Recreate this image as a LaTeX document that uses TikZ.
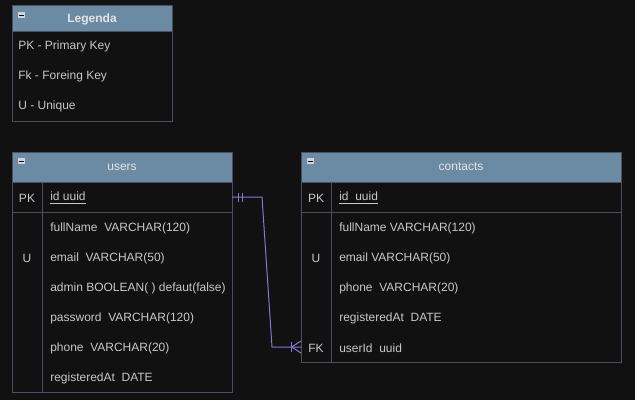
\documentclass[tikz,border=0pt]{standalone}
\usepackage{fontspec}
\setmainfont{Liberation Sans}
\definecolor{bgc}{HTML}{111111}
\definecolor{hdrc}{HTML}{6B8AA3}
\definecolor{bordc}{HTML}{4E4E62}
\definecolor{txtc}{HTML}{C8C8C8}
\definecolor{htxt}{HTML}{E4E4E4}
\definecolor{linkc}{HTML}{8478D4}
\definecolor{iconc}{HTML}{D4D4D4}
\begin{document}
\begin{tikzpicture}[x=0.75pt,y=-0.75pt,
  box/.style={draw=bordc,fill=bgc,line width=0.75pt,anchor=north west,inner sep=0,outer sep=0},
  hdr/.style={draw=bordc,fill=hdrc,line width=0.75pt,anchor=north west,inner sep=0,outer sep=0},
  grid/.style={draw=bordc,line width=0.75pt},
  txt/.style={text=txtc,font=\fontsize{9}{10}\selectfont,anchor=west,inner sep=0,yshift=-0.75pt},
  key/.style={text=txtc,font=\fontsize{9}{10}\selectfont,anchor=center,inner sep=0,yshift=-0.75pt},
  htitle/.style={text=htxt,font=\fontsize{9}{10}\selectfont,anchor=center,inner sep=0,yshift=-0.75pt},
  icon/.style={fill=iconc,draw=none,anchor=north west,minimum width=5.25pt,minimum height=4.5pt,inner sep=0},
  link/.style={draw=linkc,line width=0.75pt}]
\fill[bgc] (0,0) rectangle (635,400);
\useasboundingbox (0,0) rectangle (635,400);

% ---------- Legenda ----------
\node[box,minimum width=120pt,minimum height=87pt] (leg) at (12,5) {};
\node[hdr,minimum width=120pt,minimum height=19.5pt] (legh) at (12,5) {};
\node[htitle,font=\fontsize{9}{10}\selectfont\bfseries] (legt) at (92,18) {Legenda};
\node[icon] (legi) at (18,12) {};
\draw[bgc!70!black,line width=0.75pt] (19,15) -- (24,15);
\node[txt] (l1) at (18,45) {PK - Primary Key};
\node[txt] (l2) at (18,75) {Fk - Foreing Key};
\node[txt] (l3) at (18,105) {U - Unique};

% ---------- users ----------
\node[box,minimum width=165pt,minimum height=180pt] (users) at (12,152) {};
\node[hdr,minimum width=165pt,minimum height=22.5pt] (usersh) at (12,152) {};
\node[htitle] (userst) at (122,166) {users};
\node[icon] (usersi) at (18,158) {};
\draw[bgc!70!black,line width=0.75pt] (19,161) -- (24,161);
\draw[grid] (12,212) -- (232,212);
\draw[grid] (42,182) -- (42,392);
\node[key] (upk) at (27,197) {PK};
\node[txt] (uid) at (50,197) {\underline{id uuid}};
\node[txt] (u1) at (50,227) {fullName\ \ VARCHAR(120)};
\node[key] (uu) at (27,257) {U};
\node[txt] (u2) at (50,257) {email\ \ VARCHAR(50)};
\node[txt] (u3) at (50,287) {admin BOOLEAN( ) defaut(false)};
\node[txt] (u4) at (50,317) {password\ \ VARCHAR(120)};
\node[txt] (u5) at (50,347) {phone\ \ VARCHAR(20)};
\node[txt] (u6) at (50,377) {registeredAt\ \ DATE};

% ---------- contacts ----------
\node[box,minimum width=240pt,minimum height=157.5pt] (contacts) at (301,152) {};
\node[hdr,minimum width=240pt,minimum height=22.5pt] (contactsh) at (301,152) {};
\node[htitle] (contactst) at (461,166) {contacts};
\node[icon] (contactsi) at (307,158) {};
\draw[bgc!70!black,line width=0.75pt] (308,161) -- (313,161);
\draw[grid] (301,212) -- (621,212);
\draw[grid] (331,182) -- (331,362);
\node[key] (cpk) at (316,197) {PK};
\node[txt] (cid) at (339,197) {\underline{id\ \ uuid}};
\node[txt] (c1) at (339,227) {fullName VARCHAR(120)};
\node[key] (cu) at (316,257) {U};
\node[txt] (c2) at (339,257) {email VARCHAR(50)};
\node[txt] (c3) at (339,287) {phone\ \ VARCHAR(20)};
\node[txt] (c4) at (339,317) {registeredAt\ \ DATE};
\node[key] (cfkk) at (316,347) {FK};
\node[txt] (c5) at (339,347) {userId\ \ uuid};

% ---------- relation ----------
\coordinate (ustart) at (232,197);
\coordinate (cend) at (301,347);
\draw[link] (ustart) -- ++(30,0) -- ++(10,150) -- (cend);
% one-and-only-one marks
\draw[link] ([xshift=5]ustart) ++(0,-4.5) -- ++(0,9);
\draw[link] ([xshift=8]ustart) ++(0,-4.5) -- ++(0,9);
% one-or-many crow's foot
\draw[link] ([xshift=-7]cend) ++(0,-5) -- ++(0,10);
\draw[link] ([xshift=-7]cend) -- ([yshift=-4.5]cend);
\draw[link] ([xshift=-7]cend) -- ([yshift=4.5]cend);
\end{tikzpicture}
\end{document}
